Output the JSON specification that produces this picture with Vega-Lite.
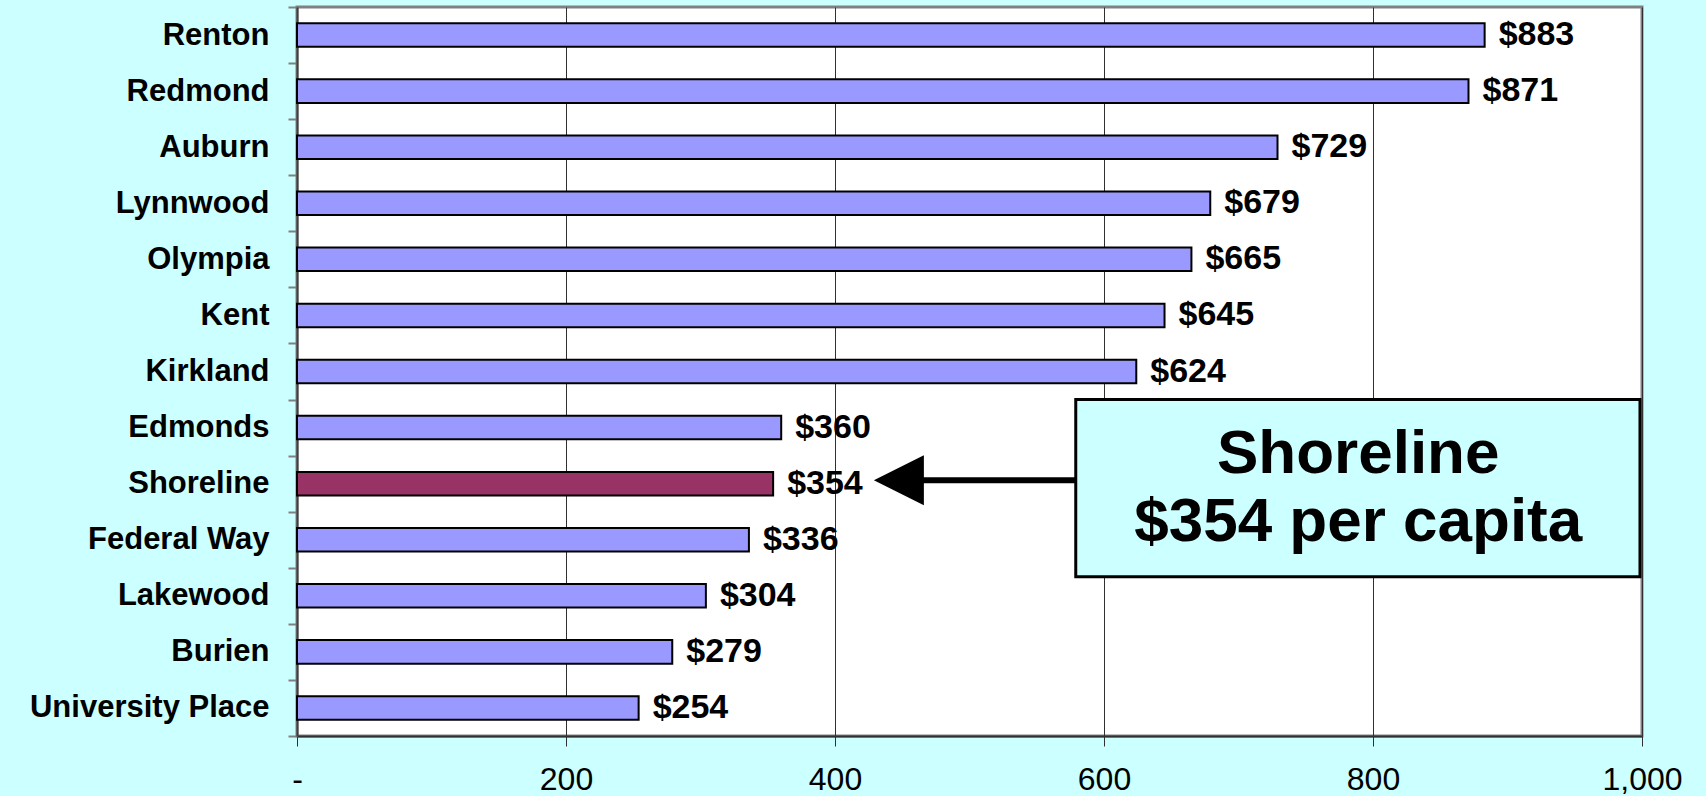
{
  "$schema": "https://vega.github.io/schema/vega-lite/v6.json",
  "width": 1345,
  "height": 729,
  "autosize": {"type": "none"},
  "padding": {"left": 297, "top": 7, "right": 64, "bottom": 60},
  "background": "#CCFFFF",
  "config": {
    "view": {"fill": "white", "stroke": "#808080", "strokeWidth": 3},
    "font": "Liberation Sans"
  },
  "datasets": {
    "cities": [
      {"city": "Renton", "value": 883},
      {"city": "Redmond", "value": 871},
      {"city": "Auburn", "value": 729},
      {"city": "Lynnwood", "value": 679},
      {"city": "Olympia", "value": 665},
      {"city": "Kent", "value": 645},
      {"city": "Kirkland", "value": 624},
      {"city": "Edmonds", "value": 360},
      {"city": "Shoreline", "value": 354},
      {"city": "Federal Way", "value": 336},
      {"city": "Lakewood", "value": 304},
      {"city": "Burien", "value": 279},
      {"city": "University Place", "value": 254}
    ],
    "callout": [
      {"label": "Shoreline\n$354 per capita"}
    ]
  },
  "layer": [
    {
      "data": {"name": "cities"},
      "mark": {"type": "bar", "height": {"band": 0.42}, "stroke": "black", "strokeWidth": 2},
      "encoding": {
        "y": {
          "field": "city",
          "type": "nominal",
          "scale": {
            "domain": ["Renton", "Redmond", "Auburn", "Lynnwood", "Olympia", "Kent", "Kirkland", "Edmonds", "Shoreline", "Federal Way", "Lakewood", "Burien", "University Place"],
            "paddingInner": 0,
            "paddingOuter": 0
          },
          "axis": {
            "title": null,
            "labelFont": "Liberation Sans",
            "labelFontWeight": "bold",
            "labelFontSize": 31,
            "labelColor": "black",
            "labelPadding": 19,
            "labelLimit": 0,
            "tickBand": "extent",
            "tickSize": 9,
            "tickColor": "#808080",
            "tickWidth": 2,
            "domainColor": "#404040",
            "domainWidth": 2,
            "grid": false
          }
        },
        "x": {
          "field": "value",
          "type": "quantitative",
          "scale": {"domain": [0, 1000], "nice": false},
          "axis": {
            "title": null,
            "values": [0, 200, 400, 600, 800, 1000],
            "labelExpr": "datum.value == 0 ? '-' : format(datum.value, ',')",
            "labelFont": "Liberation Sans",
            "labelFontSize": 32,
            "labelColor": "black",
            "labelPadding": 33,
            "labelBaseline": "middle",
            "labelFlush": false,
            "tickSize": 10,
            "tickColor": "#303030",
            "domainColor": "#303030",
            "domainWidth": 2,
            "grid": true,
            "gridColor": "#303030",
            "gridWidth": 1
          }
        },
        "fill": {
          "condition": {"test": "datum.city == 'Shoreline'", "value": "#993366"},
          "value": "#9999FF"
        }
      }
    },
    {
      "data": {"name": "cities"},
      "mark": {"type": "text", "align": "left", "baseline": "middle", "dx": 14, "fontSize": 34, "fontWeight": "bold", "font": "Liberation Sans", "color": "black"},
      "encoding": {
        "y": {"field": "city", "type": "nominal"},
        "x": {"field": "value", "type": "quantitative"},
        "text": {"field": "value", "type": "quantitative", "format": "$d"}
      }
    },
    {
      "data": {"name": "callout"},
      "mark": {"type": "rule", "color": "black", "strokeWidth": 6},
      "encoding": {
        "y": {"datum": "Shoreline", "type": "nominal", "bandPosition": 0.44},
        "x": {"datum": 462, "type": "quantitative"},
        "x2": {"datum": 580}
      }
    },
    {
      "data": {"name": "callout"},
      "mark": {"type": "point", "shape": "M1,-1L-1,0L1,1Z", "size": 2500, "filled": true, "color": "black", "opacity": 1, "strokeWidth": 0},
      "encoding": {
        "y": {"datum": "Shoreline", "type": "nominal", "bandPosition": 0.44},
        "x": {"datum": 447.5, "type": "quantitative"}
      }
    },
    {
      "data": {"name": "callout"},
      "mark": {"type": "rect", "fill": "#CCFFFF", "stroke": "black", "strokeWidth": 3},
      "encoding": {
        "y": {"datum": "Edmonds", "type": "nominal", "bandPosition": 0},
        "y2": {"datum": "Lakewood", "bandPosition": 0.16},
        "x": {"datum": 579, "type": "quantitative"},
        "x2": {"datum": 998.5}
      }
    },
    {
      "data": {"name": "callout"},
      "mark": {"type": "text", "align": "center", "baseline": "middle", "fontSize": 62, "fontWeight": "bold", "font": "Liberation Sans", "color": "black", "lineBreak": "\n", "lineHeight": 68},
      "encoding": {
        "y": {"datum": "Shoreline", "type": "nominal", "bandPosition": -0.03},
        "x": {"datum": 789, "type": "quantitative"},
        "text": {"field": "label", "type": "nominal"}
      }
    }
  ]
}
